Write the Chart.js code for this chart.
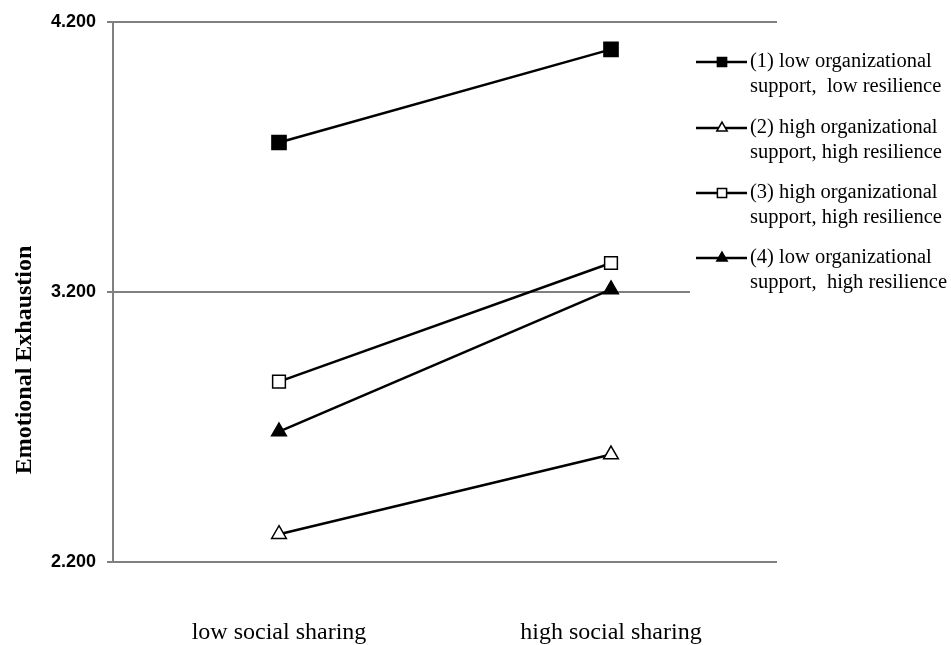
<!DOCTYPE html>
<html>
<head>
<meta charset="utf-8">
<script src="https://cdn.jsdelivr.net/npm/chart.js@4/dist/chart.umd.min.js"></script>
<style>
  html, body { margin: 0; padding: 0; background: #ffffff; }
  #wrap { width: 951px; height: 645px; position: relative; }
</style>
</head>
<body>
<div id="wrap"><canvas id="chart"></canvas></div>
<script>
const categories = ["low social sharing", "high social sharing"];

const lowSupportLowRes = [3.753, 4.098];
const highSupportHighResA = [2.303, 2.598];
const highSupportHighResB = [2.868, 3.307];
const lowSupportHighRes = [2.683, 3.209];

const seriesLabels = [
  ["(1) low organizational", "support,  low resilience"],
  ["(2) high organizational", "support, high resilience"],
  ["(3) high organizational", "support, high resilience"],
  ["(4) low organizational", "support,  high resilience"],
];

const yTicks = [2.2, 3.2, 4.2];
const yTitle = "Emotional Exhaustion";

const markers = [
  { style: "rect", fill: "#000000", radius: 10 },
  { style: "triangle", fill: "#ffffff", radius: 8.5 },
  { style: "rect", fill: "#ffffff", radius: 9 },
  { style: "triangle", fill: "#000000", radius: 8.5 },
];

const seriesData = [lowSupportLowRes, highSupportHighResA, highSupportHighResB, lowSupportHighRes];

const datasets = seriesData.map((d, i) => ({
  label: seriesLabels[i].join(" "),
  data: d,
  borderColor: "#000000",
  borderWidth: 2.5,
  pointStyle: markers[i].style,
  pointRadius: markers[i].radius,
  pointHoverRadius: markers[i].radius,
  pointBackgroundColor: markers[i].fill,
  pointBorderColor: "#000000",
  pointBorderWidth: 1.5,
  fill: false,
  tension: 0,
}));

// draws the y title and the boxed legend on the right
const extras = {
  id: "extras",
  afterDraw(chart) {
    const ctx = chart.ctx;
    ctx.save();
    // y title
    ctx.translate(25, 360);
    ctx.rotate(-Math.PI / 2);
    ctx.fillStyle = "#000";
    ctx.font = "bold 24px 'Liberation Serif', 'Times New Roman', serif";
    ctx.textAlign = "center";
    ctx.textBaseline = "middle";
    ctx.fillText(yTitle, 0, 0);
    ctx.restore();

    // legend
    ctx.save();
    ctx.fillStyle = "#ffffff";
    ctx.fillRect(690, 36, 261, 268);
    const rowY = [62, 128, 193, 258];
    chart.data.datasets.forEach((ds, i) => {
      const y = rowY[i];
      ctx.strokeStyle = "#000";
      ctx.lineWidth = 2.5;
      ctx.beginPath();
      ctx.moveTo(696, y);
      ctx.lineTo(747, y);
      ctx.stroke();
      ctx.fillStyle = markers[i].fill;
      ctx.strokeStyle = "#000";
      ctx.lineWidth = 1.5;
      Chart.helpers.drawPoint(ctx, {
        pointStyle: markers[i].style,
        radius: markers[i].style === "rect" ? 6.5 : 6,
        rotation: 0,
        borderWidth: 1.5,
      }, 722, y);
      ctx.fillStyle = "#000";
      ctx.font = "20.5px 'Liberation Serif', 'Times New Roman', serif";
      ctx.textAlign = "left";
      ctx.textBaseline = "middle";
      seriesLabels[i].forEach((t, j) => ctx.fillText(t, 750, y + j * 25));
    });
    ctx.restore();
  },
};

new Chart(document.getElementById("chart"), {
  type: "line",
  data: { labels: categories, datasets: datasets },
  options: {
    responsive: true,
    maintainAspectRatio: false,
    animation: false,
    layout: { padding: { top: 20, right: 174, left: 0, bottom: 0 } },
    plugins: { legend: { display: false }, tooltip: { enabled: false } },
    scales: {
      x: {
        offset: true,
        grid: { display: false, drawTicks: false },
        border: { display: false },
        ticks: {
          color: "#000",
          padding: 56,
          font: { family: "'Liberation Serif', 'Times New Roman', serif", size: 24 },
        },
        afterFit: (s) => { s.height = 83; },
      },
      y: {
        min: 2.2,
        max: 4.2,
        afterBuildTicks: (s) => { s.ticks = yTicks.map((v) => ({ value: v })); },
        grid: { color: "#808080", lineWidth: 2, tickLength: 6 },
        border: { display: true, color: "#808080", width: 2 },
        ticks: {
          color: "#000",
          padding: 11,
          font: { family: "'Liberation Sans', Arial, sans-serif", size: 18, weight: "bold" },
          callback: (v) => Number(v).toFixed(3),
        },
        afterFit: (s) => { s.width = 113; },
      },
    },
  },
  plugins: [extras],
});
</script>
</body>
</html>
